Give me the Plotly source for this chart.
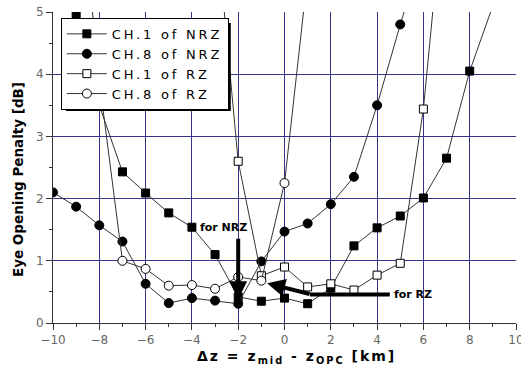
import plotly.graph_objects as go

# ---- data ----
x_ch1_nrz = [-9, -8, -7, -6, -5, -4, -3, -2, -1, 0, 1, 2, 3, 4, 5, 6, 7, 8, 9]
y_ch1_nrz = [4.95, 3.5, 2.43, 2.09, 1.77, 1.54, 1.10, 0.42, 0.35, 0.40, 0.31, 0.56,
             1.24, 1.53, 1.72, 2.01, 2.65, 4.05, 5.1]

x_ch8_nrz = [-10, -9, -8, -7, -6, -5, -4, -3, -2, -1, 0, 1, 2, 3, 4, 5, 6]
y_ch8_nrz = [2.10, 1.87, 1.57, 1.31, 0.63, 0.32, 0.40, 0.36, 0.31, 0.99, 1.47, 1.60,
             1.91, 2.35, 3.50, 4.80, 6.0]

x_ch1_rz = [-3, -2, -1, 0, 1, 2, 3, 4, 5, 6, 7]
y_ch1_rz = [6.6, 2.6, 0.76, 0.90, 0.58, 0.63, 0.53, 0.77, 0.96, 3.44, 7.3]

x_ch8_rz = [-9, -8, -7, -6, -5, -4, -3, -2, -1, 0, 1]
y_ch8_rz = [7.6, 3.9, 1.0, 0.87, 0.60, 0.61, 0.55, 0.74, 0.68, 2.25, 5.6]

series_names = ["CH.1 of NRZ", "CH.8 of NRZ", "CH.1 of RZ", "CH.8 of RZ"]
x_tick_vals = [-10, -8, -6, -4, -2, 0, 2, 4, 6, 8, 10]
y_tick_vals = [0, 1, 2, 3, 4, 5]

FONT = "DejaVu Sans"


def spaced(txt, px):
    return "<span style='letter-spacing:%spx'>%s</span>" % (px, txt)


fig = go.Figure()

specs = [
    (x_ch1_nrz, y_ch1_nrz, "square", False, 8),
    (x_ch8_nrz, y_ch8_nrz, "circle", False, 9),
    (x_ch1_rz, y_ch1_rz, "square", True, 8),
    (x_ch8_rz, y_ch8_rz, "circle", True, 9),
]
for (xs, ys, sym, is_open, sz), name in zip(specs, series_names):
    marker = dict(symbol=sym, size=sz, color="white" if is_open else "black",
                  line=dict(color="black", width=1))
    fig.add_trace(go.Scatter(
        x=xs, y=ys, mode="lines+markers", name=spaced(name, 2.8),
        line=dict(color="#333333", width=1),
        marker=marker, cliponaxis=True,
    ))

# RZ arrow shaft (horizontal part)
fig.add_shape(type="line", xref="x", yref="y", x0=4.55, y0=0.46, x1=1.1, y1=0.46,
              line=dict(color="black", width=4), layer="above")

fig.add_annotation(x=-0.75, y=0.64, ax=1.15, ay=0.46, xref="x", yref="y",
                   axref="x", ayref="y", showarrow=True, arrowhead=2,
                   arrowsize=0.9, arrowwidth=4, arrowcolor="black", text="", standoff=0)
fig.add_annotation(x=-2, y=0.38, ax=-2, ay=1.38, xref="x", yref="y",
                   axref="x", ayref="y", showarrow=True, arrowhead=2,
                   arrowsize=0.9, arrowwidth=4, arrowcolor="black", text="", standoff=0)

fig.add_annotation(x=-3.72, y=1.54, xref="x", yref="y", text="<b>for NRZ</b>",
                   showarrow=False, xanchor="left", yanchor="middle",
                   font=dict(family=FONT, size=11, color="black"))
fig.add_annotation(x=4.65, y=0.46, xref="x", yref="y", text="<b>for RZ</b>",
                   showarrow=False, xanchor="left", yanchor="middle",
                   font=dict(family=FONT, size=11, color="black"))

# axis titles
fig.add_annotation(x=0.525, y=-0.109, xref="paper", yref="paper",
                   text=spaced("<b>Δz = z<sub>mid</sub> - z<sub>OPC</sub> [km]</b>", 2),
                   showarrow=False, xanchor="center", yanchor="middle",
                   font=dict(family=FONT, size=14, color="black"))
fig.add_annotation(x=-0.0756, y=0.463, xref="paper", yref="paper",
                   text="<b>Eye Opening Penalty [dB]</b>", textangle=-90,
                   showarrow=False, xanchor="center", yanchor="middle",
                   font=dict(family=FONT, size=13.5, color="black"))

# legend shadow
fig.add_shape(type="rect", xref="paper", yref="paper",
              x0=0.028, x1=0.384, y0=0.682, y1=0.965,
              fillcolor="black", line=dict(width=0), layer="above")

axis_common = dict(
    showgrid=True, gridcolor="#35358e", gridwidth=1,
    showline=True, linecolor="#333333", linewidth=1,
    ticks="outside", ticklen=6, tickcolor="#333333",
    tickfont=dict(family=FONT, size=12, color="#666666"),
    zeroline=False, automargin=False, ticklabeloverflow="allow",
)

fig.update_xaxes(range=[-10, 10], tickvals=x_tick_vals,
                 minor=dict(dtick=1, ticklen=3, ticks="outside", tickcolor="#333333", showgrid=False),
                 **axis_common)
fig.update_yaxes(range=[0, 5], tickvals=y_tick_vals,
                 minor=dict(dtick=0.5, ticklen=3, ticks="outside", tickcolor="#333333", showgrid=False),
                 **axis_common)

fig.update_layout(
    width=521, height=376,
    margin=dict(l=53, r=5, t=12, b=53),
    paper_bgcolor="white", plot_bgcolor="white",
    showlegend=True,
    legend=dict(x=0.017, y=0.981, xanchor="left", yanchor="top",
                bgcolor="white", bordercolor="black", borderwidth=1,
                font=dict(family=FONT, size=13, color="black"),
                itemwidth=40, tracegroupgap=0),
    font=dict(family=FONT),
)

fig.write_html("out.html", config={"displayModeBar": False},
               post_script="document.body.style.margin='0';document.body.style.overflow='hidden';")
